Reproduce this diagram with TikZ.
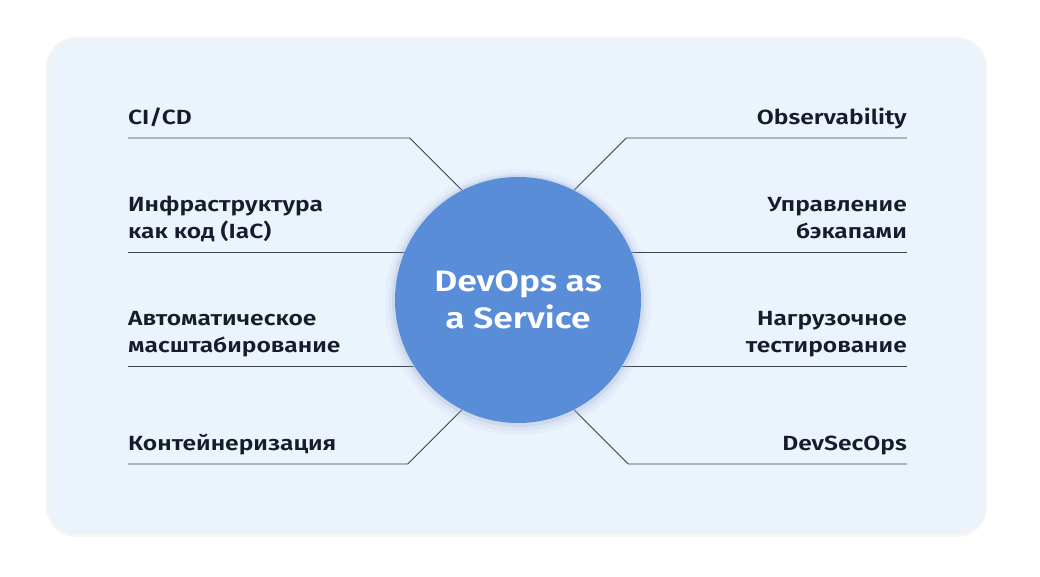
\documentclass[tikz,border=0pt]{standalone}
\usepackage{fontspec}
\setmainfont{Fira Sans}[UprightFont=* SemiBold,FakeStretch=1.2]
\usetikzlibrary{calc}
\definecolor{panelbg}{HTML}{EBF3FD}
\definecolor{hubblue}{HTML}{5A8DD7}
\definecolor{haloblue}{HTML}{9DB3D3}
\definecolor{inkdark}{HTML}{171C2B}
\definecolor{rulegray}{HTML}{3C414C}
\pgfdeclarelayer{back}
\pgfsetlayers{back,main}

\begin{document}
\begin{tikzpicture}[x=1pt,y=-1pt,
	leftlabel/.style={anchor=south west,align=left,inner sep=0pt,text depth=0pt,text=inkdark,font=\fontsize{20.5}{27}\selectfont},
	rightlabel/.style={leftlabel,anchor=south east,align=right},
	rule/.style={draw=rulegray,line width=0.9pt},
	hubstyle/.style={circle,fill=hubblue,minimum size=246pt,inner sep=0pt,text=white,align=center,font=\fontsize{29.5}{37}\selectfont}]
	\useasboundingbox (0,0) rectangle (1040,577);
	
	% Panel with a faint rim
	\begin{pgfonlayer}{back}
		\fill[black!8,opacity=0.5,rounded corners=30pt] (46,37) rectangle (987,537);
		\fill[black!6,opacity=0.6,rounded corners=28pt] (48,39) rectangle (985,534);
		\fill[panelbg,rounded corners=26pt] (50,40) rectangle (983,532);
	\end{pgfonlayer}
	
	% Soft halo round the hub
	\fill[haloblue,opacity=0.08] (518,302) circle (133);
	\fill[haloblue,opacity=0.12] (518,302) circle (129);
	\fill[haloblue,opacity=0.22] (518,301) circle (126);
	
	% Hub
	\node[hubstyle] (hub) at (518,300) {DevOps as\\a Service};
	
	% Left labels
	\node[leftlabel] (cicd) at (128,124.5) {CI/CD};
	\node[leftlabel] (iac) at (128,239) {Инфраструктура\\как код (IaC)};
	\node[leftlabel] (autoscale) at (128,353) {Автоматическое\\масштабирование};
	\node[leftlabel] (containers) at (128,451) {Контейнеризация};
	
	% Right labels
	\node[rightlabel] (observ) at (907,124.5) {Observability};
	\node[rightlabel] (backups) at (907,239) {Управление\\бэкапами};
	\node[rightlabel] (loadtest) at (907,353) {Нагрузочное\\тестирование};
	\node[rightlabel] (secops) at (907,451) {DevSecOps};
	
	% Rule ends and bends
	\coordinate (L1) at (128,138);
	\coordinate (L1b) at (409.8,138);
	\coordinate (L2) at (128,252);
	\coordinate (L3) at (128,366);
	\coordinate (L4) at (128,464);
	\coordinate (L4b) at (407.8,464);
	\coordinate (R1) at (907,138);
	\coordinate (R1b) at (626.2,138);
	\coordinate (R2) at (907,252);
	\coordinate (R3) at (907,366);
	\coordinate (R4) at (907,464);
	\coordinate (R4b) at (628.2,464);
	
	% Rules to the hub (behind it)
	\begin{pgfonlayer}{back}
		\draw[rule] (L1) -- (L1b) -- (hub.117);
		\draw[rule] (L2) -- (L2 -| hub.157);
		\draw[rule] (L3) -- (L3 -| hub.212);
		\draw[rule] (L4) -- (L4b) -- (hub.243);
		\draw[rule] (R1) -- (R1b) -- (hub.63);
		\draw[rule] (R2) -- (R2 -| hub.23);
		\draw[rule] (R3) -- (R3 -| hub.328);
		\draw[rule] (R4) -- (R4b) -- (hub.297);
	\end{pgfonlayer}
	
\end{tikzpicture}
\end{document}
